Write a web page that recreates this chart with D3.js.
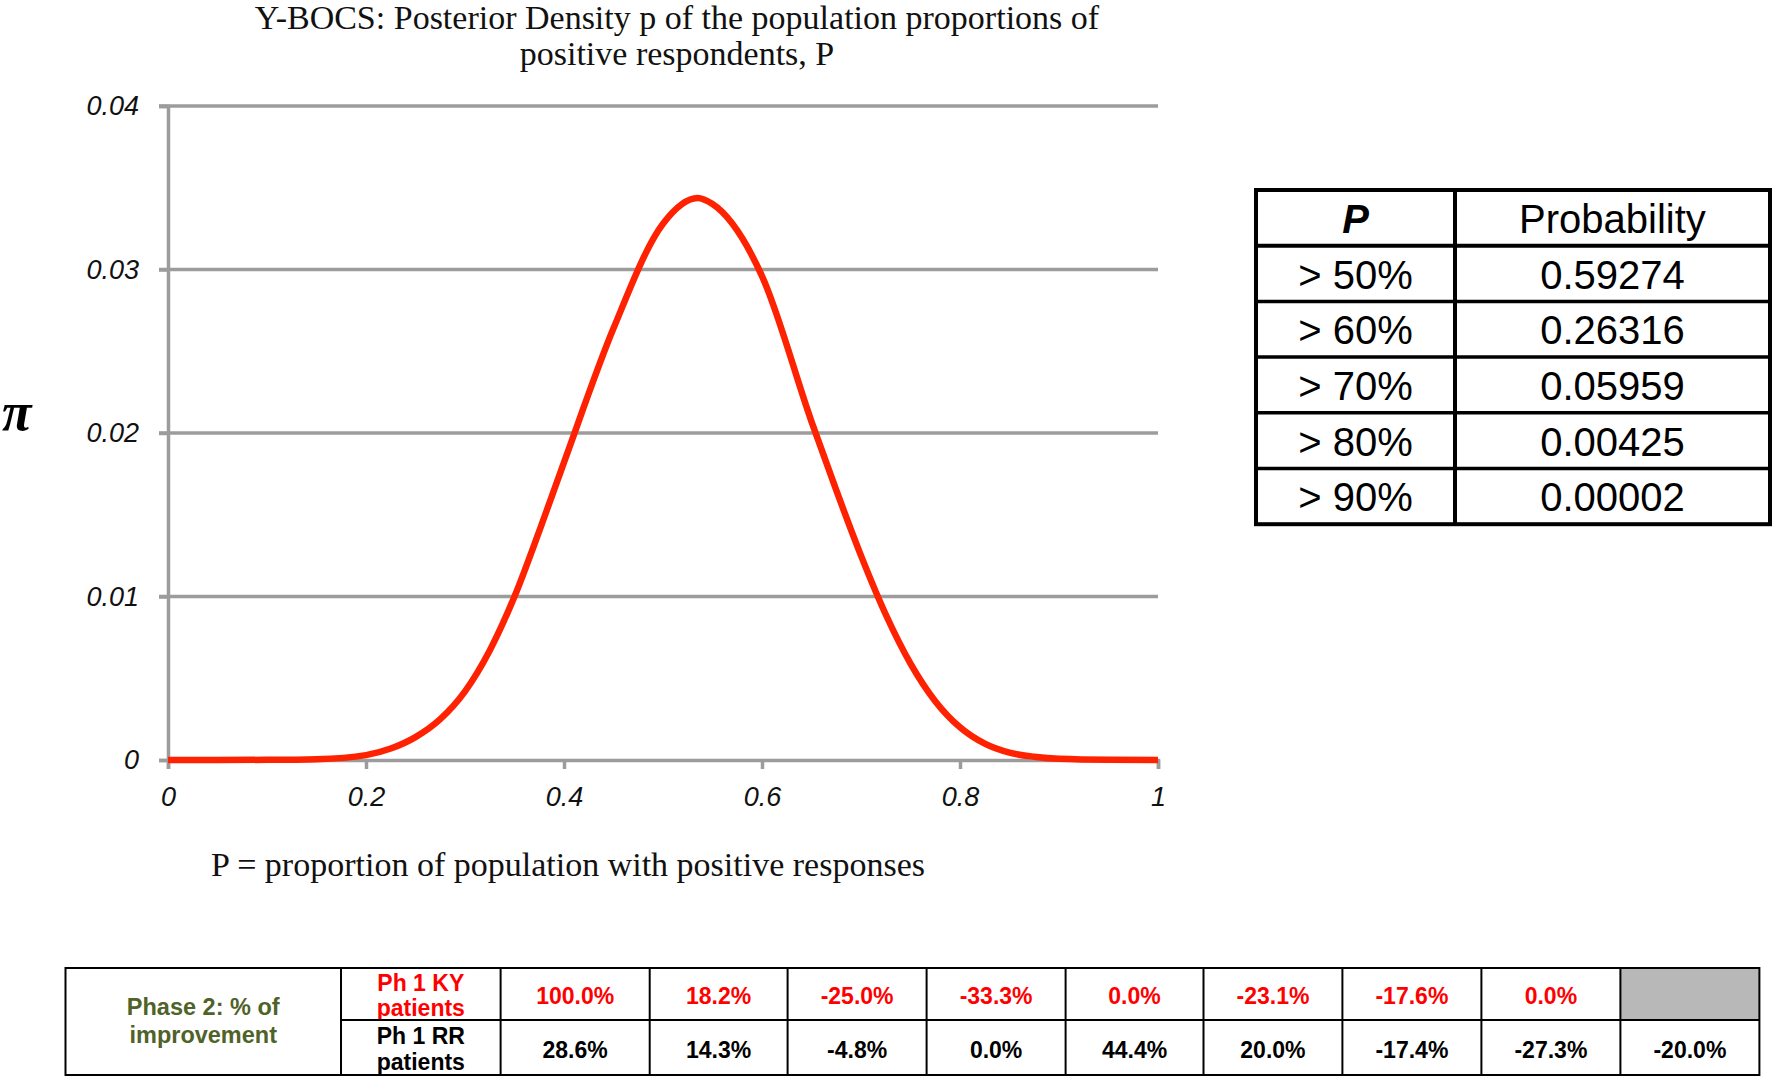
<!DOCTYPE html>
<html>
<head>
<meta charset="utf-8">
<script src="https://cdn.jsdelivr.net/npm/d3@7"></script>
<style>
  body { margin: 0; background: #fff; }
  svg { display: block; }
  .serif { font-family: "Liberation Serif", "Times New Roman", serif; }
  .sans { font-family: "Liberation Sans", Arial, sans-serif; }
</style>
</head>
<body>
<svg id="chart" width="1772" height="1077"></svg>
<script>
// curve (P, density)
const curveP = [0, 0.05, 0.1, 0.15, 0.2, 0.225, 0.25, 0.275, 0.3, 0.325, 0.35, 0.375, 0.4, 0.45, 0.5, 0.535, 0.55, 0.6, 0.65, 0.675, 0.7, 0.725, 0.75, 0.775, 0.8, 0.825, 0.85, 0.875, 0.9, 0.95, 1];
const curveDensity = [0, 0, 0.00001, 0.00005, 0.0003, 0.0007, 0.0014, 0.0025, 0.0042, 0.0067, 0.01, 0.014, 0.0182, 0.0264, 0.0328, 0.03437, 0.034, 0.0296, 0.0207, 0.0165, 0.0125, 0.0089, 0.0059, 0.0036, 0.002, 0.001, 0.00045, 0.0002, 0.00007, 0.00001, 0];

const xTicks = [0, 0.2, 0.4, 0.6, 0.8, 1];
const yTicks = [0, 0.01, 0.02, 0.03, 0.04];

// right table
const probLabels = ['> 50%', '> 60%', '> 70%', '> 80%', '> 90%'];
const probValues = ['0.59274', '0.26316', '0.05959', '0.00425', '0.00002'];

// bottom table
const rowLabels = [['Ph 1 KY', 'patients'], ['Ph 1 RR', 'patients']];
const kyValues = ['100.0%', '18.2%', '-25.0%', '-33.3%', '0.0%', '-23.1%', '-17.6%', '0.0%', null];
const rrValues = ['28.6%', '14.3%', '-4.8%', '0.0%', '44.4%', '20.0%', '-17.4%', '-27.3%', '-20.0%'];

const svg = d3.select('#chart');
const gridColor = '#9c9c9c';

// scales
const x = d3.scaleLinear().domain([0, 1]).range([168, 1158]);
const y = d3.scaleLinear().domain([0, 0.04]).range([760, 106]);

// title
const title = svg.append('g').attr('class', 'serif').attr('font-size', 34).attr('fill', '#111')
  .attr('text-anchor', 'middle');
title.append('text').attr('x', 677).attr('y', 29)
  .text('Y-BOCS: Posterior Density p of the population proportions of');
title.append('text').attr('x', 677).attr('y', 65).text('positive respondents, P');

// gridlines
svg.append('g')
  .selectAll('line')
  .data(yTicks.filter(d => d > 0))
  .join('line')
  .attr('x1', x(0) - 9).attr('x2', x(1))
  .attr('y1', d => y(d)).attr('y2', d => y(d))
  .attr('stroke', gridColor).attr('stroke-width', 3.5);

// y axis
const yAxis = svg.append('g')
  .attr('transform', `translate(${x(0)},0)`)
  .call(d3.axisLeft(y).tickValues(yTicks).tickSize(9).tickPadding(8).tickFormat(d => d === 0 ? '0' : d3.format('.2f')(d)));
yAxis.select('.domain').attr('stroke', gridColor).attr('stroke-width', 3.5);
yAxis.selectAll('.tick line').attr('stroke', gridColor).attr('stroke-width', 3.5);
yAxis.selectAll('.tick text')
  .attr('class', 'sans').attr('font-size', 27).attr('font-style', 'italic').attr('fill', '#111')
  .attr('x', -29);

// x axis
const xAxis = svg.append('g')
  .attr('transform', `translate(0,${y(0)})`)
  .call(d3.axisBottom(x).tickValues(xTicks).tickSize(9).tickPadding(18).tickFormat(d => d3.format('~g')(d)));
xAxis.select('.domain').attr('stroke', gridColor).attr('stroke-width', 3.5);
xAxis.selectAll('.tick line').attr('stroke', gridColor).attr('stroke-width', 3.5);
xAxis.selectAll('.tick text')
  .attr('class', 'sans').attr('font-size', 27).attr('font-style', 'italic').attr('fill', '#111');

// curve
const line = d3.line()
  .x((d, i) => x(curveP[i]))
  .y(d => y(d))
  .curve(d3.curveMonotoneX);
svg.append('path')
  .datum(curveDensity)
  .attr('d', line)
  .attr('fill', 'none')
  .attr('stroke', '#ff2200')
  .attr('stroke-width', 6.5)
  .attr('stroke-linejoin', 'round');

// axis titles
svg.append('text').attr('class', 'serif')
  .attr('x', 2).attr('y', 430)
  .attr('font-size', 54).attr('font-weight', 'bold').attr('font-style', 'italic')
  .text('\u03c0');
svg.append('text').attr('class', 'serif')
  .attr('x', 568).attr('y', 876).attr('text-anchor', 'middle')
  .attr('font-size', 34).attr('fill', '#111')
  .text('P = proportion of population with positive responses');

// probability table
const tX = [1256, 1455, 1770];
const tRowH = 55.7;
const tTop = 190;
const probRows = [['P', 'Probability']].concat(probLabels.map((d, i) => [d, probValues[i]]));
const tbl = svg.append('g').attr('class', 'sans');
tbl.append('rect')
  .attr('x', tX[0]).attr('y', tTop)
  .attr('width', tX[2] - tX[0]).attr('height', tRowH * probRows.length)
  .attr('fill', 'none').attr('stroke', '#000').attr('stroke-width', 4);
tbl.selectAll('line.row')
  .data(d3.range(1, probRows.length))
  .join('line').attr('class', 'row')
  .attr('x1', tX[0]).attr('x2', tX[2])
  .attr('y1', d => tTop + d * tRowH).attr('y2', d => tTop + d * tRowH)
  .attr('stroke', '#000').attr('stroke-width', d => d === 1 ? 4 : 3.5);
tbl.append('line')
  .attr('x1', tX[1]).attr('x2', tX[1])
  .attr('y1', tTop).attr('y2', tTop + tRowH * probRows.length)
  .attr('stroke', '#000').attr('stroke-width', 4);
probRows.forEach((row, i) => {
  row.forEach((txt, j) => {
    tbl.append('text')
      .attr('x', (tX[j] + tX[j + 1]) / 2)
      .attr('y', tTop + i * tRowH + tRowH / 2 + 15)
      .attr('text-anchor', 'middle')
      .attr('font-size', 40)
      .attr('font-weight', i === 0 && j === 0 ? 'bold' : null)
      .attr('font-style', i === 0 && j === 0 ? 'italic' : null)
      .text(txt);
  });
});

// phase 2 table
const bX = [65.5, 341, 500.6, 649.7, 787.6, 926.6, 1065.6, 1203.5, 1342.4, 1481.4, 1620.4, 1759.4];
const bY = [968, 1020, 1075];
const bt = svg.append('g').attr('class', 'sans').attr('font-weight', 'bold').attr('font-size', 23);

bt.selectAll('rect.gray')
  .data(kyValues.map((d, i) => ({ d, i })).filter(o => o.d === null))
  .join('rect').attr('class', 'gray')
  .attr('x', o => bX[o.i + 2]).attr('y', bY[0])
  .attr('width', o => bX[o.i + 3] - bX[o.i + 2]).attr('height', bY[1] - bY[0])
  .attr('fill', '#b8b8b8');

// two-line row labels (text overflows the cell like in the source)
const rowColors = ['#ff0000', '#000'];
const labelBase = [[991, 1016], [1044, 1070]];
rowLabels.forEach((lines, r) => {
  lines.forEach((t, k) => {
    bt.append('text')
      .attr('x', (bX[1] + bX[2]) / 2).attr('y', labelBase[r][k])
      .attr('text-anchor', 'middle').attr('fill', rowColors[r])
      .text(t);
  });
});

[kyValues, rrValues].forEach((vals, r) => {
  bt.selectAll(`text.v${r}`)
    .data(vals.map((d, i) => ({ d, i })).filter(o => o.d !== null))
    .join('text').attr('class', `v${r}`)
    .attr('x', o => (bX[o.i + 2] + bX[o.i + 3]) / 2)
    .attr('y', r === 0 ? 1004 : 1058)
    .attr('text-anchor', 'middle').attr('fill', rowColors[r])
    .text(o => o.d);
});

bt.append('text').attr('x', (bX[0] + bX[1]) / 2).attr('y', 1015)
  .attr('text-anchor', 'middle').attr('fill', '#4f6228').attr('font-size', 23.5).text('Phase 2: % of');
bt.append('text').attr('x', (bX[0] + bX[1]) / 2).attr('y', 1043)
  .attr('text-anchor', 'middle').attr('fill', '#4f6228').attr('font-size', 23.5).text('improvement');

// grid lines of the table
const bLines = svg.append('g').attr('stroke', '#000').attr('stroke-width', 2);
bLines.append('rect')
  .attr('x', bX[0]).attr('y', bY[0])
  .attr('width', bX[bX.length - 1] - bX[0]).attr('height', bY[2] - bY[0])
  .attr('fill', 'none');
bLines.selectAll('line.col')
  .data(bX.slice(1, -1))
  .join('line').attr('class', 'col')
  .attr('x1', d => d).attr('x2', d => d)
  .attr('y1', bY[0]).attr('y2', bY[2]);
bLines.append('line')
  .attr('x1', bX[1]).attr('x2', bX[bX.length - 1])
  .attr('y1', bY[1]).attr('y2', bY[1]);
</script>
</body>
</html>
